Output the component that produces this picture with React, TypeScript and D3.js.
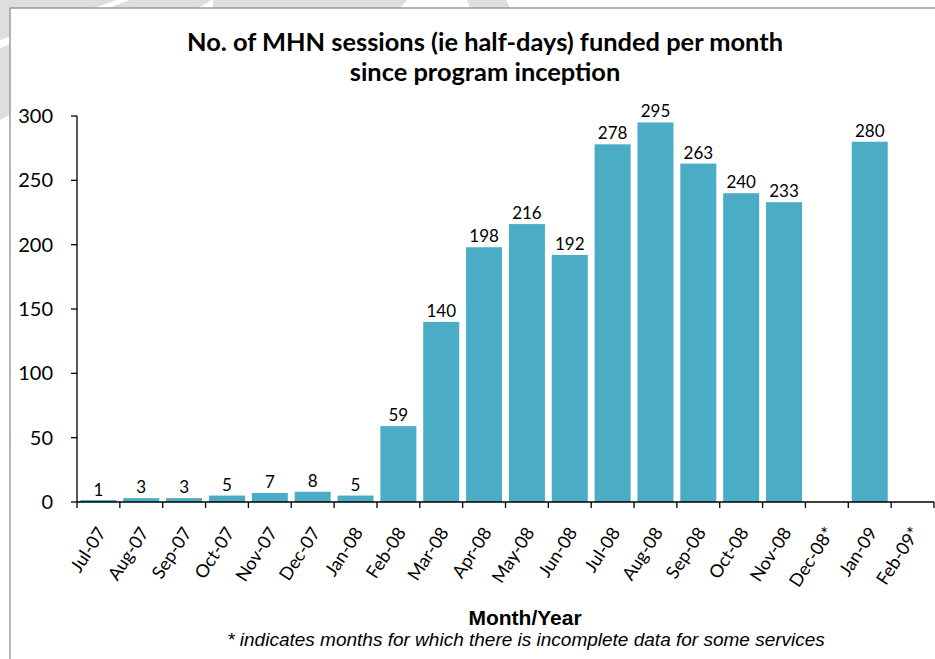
import React from "react";
import * as d3 from "d3";

const months = [
  "Jul-07", "Aug-07", "Sep-07", "Oct-07", "Nov-07", "Dec-07", "Jan-08",
  "Feb-08", "Mar-08", "Apr-08", "May-08", "Jun-08", "Jul-08", "Aug-08",
  "Sep-08", "Oct-08", "Nov-08", "Dec-08*", "Jan-09", "Feb-09*",
];
const sessions: (number | null)[] = [
  1, 3, 3, 5, 7, 8, 5, 59, 140, 198, 216, 192, 278, 295, 263, 240, 233, null, 280, null,
];
const yTicks = [0, 50, 100, 150, 200, 250, 300];

const titleLines = [
  "No. of MHN sessions (ie half-days) funded per month",
  "since program inception",
];

const W = 935;
const H = 659;
const margin = { top: 116, right: 1, bottom: 157, left: 77 };
const calibri = "Lato, 'Open Sans', sans-serif";
const arial = "'Liberation Sans', Arial, sans-serif";

export default function App() {
  const x = d3
    .scaleBand<string>()
    .domain(months)
    .range([margin.left, W - margin.right])
    .paddingInner(0.16)
    .paddingOuter(0.08);
  const step = x.step();
  const x0 = margin.left;

  const y = d3
    .scaleLinear()
    .domain([0, 300])
    .range([H - margin.bottom, margin.top]);

  return (
    <svg
      width={W}
      height={H}
      style={{ position: "absolute", left: 0, top: 0, background: "#fff" }}
    >
      {/* faint watermark remains outside the frame */}
      <g fill="#dedede">
        <polygon points="0,0 117,0 0,40" />
        <polygon points="130,0 212,0 0,120 0,48" />
        <polygon points="213,0 407,0 400,8 213,8" />
        <polygon points="467,0 506,0 510,8 470,8" />
      </g>
      {/* chart frame */}
      <rect x={10} y={8} width={W + 20} height={H + 20} fill="#fff" stroke="#9a9a9a" strokeWidth={1.5} />

      <g fontFamily={calibri} fontWeight="bold" fontSize={25.4} textAnchor="middle" fill="#000">
        {titleLines.map((t, i) => (
          <text key={t} x={485} y={51 + i * 30}>
            {t}
          </text>
        ))}
      </g>

      {/* bars */}
      <g fill="#4bacc6">
        {months.map((m, i) => {
          const v = sessions[i];
          if (v == null) return null;
          return (
            <rect
              key={m}
              x={x(m)}
              y={Math.min(y(v), y(0) - 2)}
              width={x.bandwidth()}
              height={Math.max(y(0) - y(v), 2)}
            />
          );
        })}
      </g>

      {/* value labels */}
      <g fontFamily={calibri} fontSize={17} textAnchor="middle" fill="#000">
        {months.map((m, i) => {
          const v = sessions[i];
          if (v == null) return null;
          return (
            <text key={m} x={(x(m) ?? 0) + x.bandwidth() / 2} y={y(v) - 5}>
              {v}
            </text>
          );
        })}
      </g>

      {/* y axis */}
      <g stroke="#000" strokeWidth={1.3}>
        <line x1={x0} x2={x0} y1={y(300)} y2={y(0)} />
        {yTicks.map((t) => (
          <line key={t} x1={x0 - 6} x2={x0} y1={y(t)} y2={y(t)} />
        ))}
      </g>
      <g fontFamily={calibri} fontSize={20} textAnchor="end" fill="#000">
        {yTicks.map((t) => (
          <text key={t} x={53} y={y(t)} dy="0.35em">
            {t}
          </text>
        ))}
      </g>

      {/* x axis */}
      <g stroke="#000" strokeWidth={1.3}>
        <line x1={x0} x2={W - margin.right} y1={y(0)} y2={y(0)} />
        {d3.range(months.length + 1).map((i) => (
          <line key={i} x1={x0 + i * step} x2={x0 + i * step} y1={y(0)} y2={y(0) + 6} />
        ))}
      </g>
      <g fontFamily={calibri} fontSize={18} fill="#000">
        {months.map((m) => {
          const cx = (x(m) ?? 0) + x.bandwidth() / 2 + 3;
          const cy = y(0) + 27;
          return (
            <text
              key={m}
              x={cx}
              y={cy}
              textAnchor="end"
              dy="0.35em"
              transform={`rotate(-57 ${cx} ${cy})`}
            >
              {m}
            </text>
          );
        })}
      </g>

      <text x={525} y={625} fontFamily={arial} fontWeight="bold" fontSize={21} textAnchor="middle">
        Month/Year
      </text>
      <text x={526} y={646} fontFamily={arial} fontStyle="italic" fontSize={19} textAnchor="middle">
        * indicates months for which there is incomplete data for some services
      </text>
    </svg>
  );
}
